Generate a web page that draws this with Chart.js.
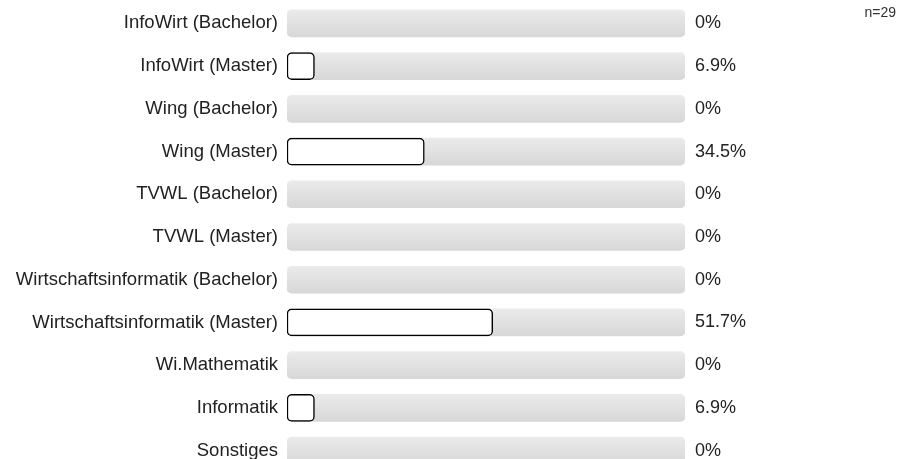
<!DOCTYPE html>
<html>
<head>
<meta charset="utf-8">
<script src="https://cdn.jsdelivr.net/npm/chart.js@4/dist/chart.umd.min.js"></script>
<style>
    html, body { margin: 0; padding: 0; background: #fff; overflow: hidden; }
    #wrap { position: relative; width: 909px; height: 472px; }
</style>
</head>
<body>
<div id="wrap"><canvas id="chart"></canvas></div>
<script>
const categories = [
    'InfoWirt (Bachelor)',
    'InfoWirt (Master)',
    'Wing (Bachelor)',
    'Wing (Master)',
    'TVWL (Bachelor)',
    'TVWL (Master)',
    'Wirtschaftsinformatik (Bachelor)',
    'Wirtschaftsinformatik (Master)',
    'Wi.Mathematik',
    'Informatik',
    'Sonstiges'
];
const values = [0, 6.9, 0, 34.5, 0, 0, 0, 51.7, 0, 6.9, 0];
const trackValues = categories.map(() => 100);
const nLabel = 'n=29';

const FONT = '"Liberation Sans", Arial, sans-serif';

// gray track with a light vertical gradient
function trackColor(ctx) {
    const chart = ctx.chart;
    if (!chart.chartArea) return '#e0e0e0';
    const y = chart.scales.y.getPixelForValue(ctx.dataIndex);
    const g = chart.ctx.createLinearGradient(0, y - 14, 0, y + 14);
    g.addColorStop(0, '#ebebeb');
    g.addColorStop(1, '#d7d7d7');
    return g;
}

const percentLabels = {
    id: 'percentLabels',
    afterDatasetsDraw(chart) {
        const c = chart.ctx;
        const area = chart.chartArea;
        c.save();
        c.font = '18px ' + FONT;
        c.fillStyle = '#222';
        c.textAlign = 'left';
        c.textBaseline = 'middle';
        values.forEach((v, i) => {
            const y = chart.scales.y.getPixelForValue(i);
            const txt = v === 0 ? '0%' : v.toFixed(1) + '%';
            c.fillText(txt, area.right + 10, y);
        });
        // sample size
        c.font = '14px ' + FONT;
        c.fillStyle = '#333';
        c.textAlign = 'right';
        c.fillText(nLabel, 896, 13);
        c.restore();
    }
};

new Chart(document.getElementById('chart'), {
    type: 'bar',
    data: {
        labels: categories,
        datasets: [
            {
                label: 'Anteil',
                data: values.map(v => v > 0 ? v : null),
                backgroundColor: '#ffffff',
                borderColor: '#000000',
                borderWidth: 1.5,
                borderRadius: 5,
                borderSkipped: false,
                barThickness: 27,
                order: 0
            },
            {
                label: 'track',
                data: trackValues,
                backgroundColor: trackColor,
                borderWidth: 0,
                borderRadius: 5,
                borderSkipped: false,
                barThickness: 27,
                order: 1
            }
        ]
    },
    options: {
        indexAxis: 'y',
        responsive: true,
        maintainAspectRatio: false,
        animation: false,
        layout: { padding: { top: 2, right: 224, bottom: 0, left: 0 } },
        datasets: { bar: { grouped: false } },
        plugins: {
            legend: { display: false },
            tooltip: { enabled: false }
        },
        scales: {
            x: { display: false, min: 0, max: 100 },
            y: {
                grid: { display: false, drawTicks: false },
                border: { display: false },
                ticks: {
                    color: '#222',
                    padding: 9,
                    font: { size: 18.5, family: FONT }
                },
                afterFit(scale) {
                    scale.width = 287;
                    scale.paddingTop = 0;
                    scale.paddingBottom = 0;
                }
            }
        }
    },
    plugins: [percentLabels]
});
</script>
</body>
</html>
